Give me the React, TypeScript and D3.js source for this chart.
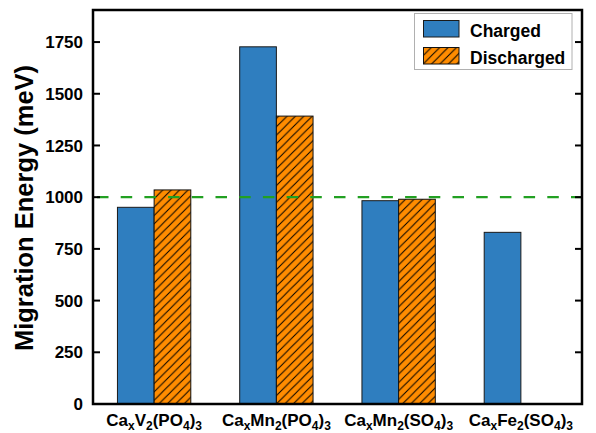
import React from "react";
import * as d3 from "d3";

const categories = ["Ca_xV_2(PO_4)_3", "Ca_xMn_2(PO_4)_3", "Ca_xMn_2(SO_4)_3", "Ca_xFe_2(SO_4)_3"];
const chargedValues = [951, 1727, 983, 830];
const dischargedValues: (number | null)[] = [1035, 1392, 990, null];
const seriesNames = ["Charged", "Discharged"];
const yTicks = [0, 250, 500, 750, 1000, 1250, 1500, 1750];
const thresholdValue = 1000;
const yLabel = "Migration Energy (meV)";

const W = 596;
const H = 433;
const M = { left: 93, right: 582, top: 10, bottom: 404 };
const BLUE = "#2f7ebf";
const ORANGE = "#ff8c00";
const GREEN = "#22a022";
const FONT = "'Liberation Sans', Arial, sans-serif";

function parseLabel(s: string) {
  const parts: { t: string; sub: boolean }[] = [];
  let i = 0;
  let buf = "";
  while (i < s.length) {
    if (s[i] === "_") {
      if (buf) parts.push({ t: buf, sub: false });
      buf = "";
      parts.push({ t: s[i + 1], sub: true });
      i += 2;
    } else {
      buf += s[i];
      i++;
    }
  }
  if (buf) parts.push({ t: buf, sub: false });
  return parts;
}

export default function App() {
  const x = d3.scaleBand<string>().domain(categories).range([M.left, M.right]).padding(0);
  const y = d3.scaleLinear().domain([0, 1905]).range([M.bottom, M.top]);
  const bw = x.bandwidth() * 0.3;
  const hs = 8.4;

  return (
    <svg width={W} height={H} style={{ position: "absolute", left: 0, top: 0, display: "block" }} fontFamily={FONT}>
      <defs>
        <pattern id="hatch" patternUnits="userSpaceOnUse" width={hs} height={hs}>
          <rect width={hs} height={hs} fill={ORANGE} />
          <path
            d={`M-1,1 l2,-2 M0,${hs} l${hs},${-hs} M${hs - 1},${hs + 1} l2,-2`}
            stroke="#000"
            strokeWidth={1}
          />
        </pattern>
      </defs>
      <rect width={W} height={H} fill="#fff" />

      {categories.map((c, i) => {
        const cx = (x(c) as number) + x.bandwidth() / 2;
        const v1 = chargedValues[i];
        const v2 = dischargedValues[i];
        return (
          <g key={c}>
            <rect x={cx - bw} y={y(v1)} width={bw} height={y(0) - y(v1)} fill={BLUE} stroke="#1a1a1a" strokeWidth={1} />
            {v2 != null && (
              <rect x={cx} y={y(v2)} width={bw} height={y(0) - y(v2)} fill="url(#hatch)" stroke="#111" strokeWidth={1} />
            )}
          </g>
        );
      })}

      <line
        x1={M.left}
        x2={M.right}
        y1={y(thresholdValue)}
        y2={y(thresholdValue)}
        stroke={GREEN}
        strokeWidth={2.2}
        strokeDasharray="11.5 12.2"
        strokeDashoffset={-4}
      />

      {yTicks.map((t) => (
        <g key={t}>
          <line x1={M.left} x2={M.left + 7} y1={y(t)} y2={y(t)} stroke="#000" strokeWidth={2} />
          <line x1={M.right - 7} x2={M.right} y1={y(t)} y2={y(t)} stroke="#000" strokeWidth={2} />
          <text x={83} y={y(t)} dy="0.36em" textAnchor="end" fontSize={17} fontWeight="bold">
            {t}
          </text>
        </g>
      ))}

      <rect x={M.left} y={M.top} width={M.right - M.left} height={M.bottom - M.top} fill="none" stroke="#000" strokeWidth={2.5} />

      {categories.map((c) => {
        const cx = (x(c) as number) + x.bandwidth() / 2;
        const parts = parseLabel(c);
        return (
          <text key={c} x={cx} y={426} textAnchor="middle" fontSize={17} fontWeight="bold">
            {parts.map((p, j) => {
              const prevSub = j > 0 && parts[j - 1].sub;
              const dy = p.sub ? (prevSub ? 0 : 4) : prevSub ? -4 : 0;
              return (
                <tspan key={j} dy={dy} fontSize={p.sub ? 12 : 17}>
                  {p.t}
                </tspan>
              );
            })}
          </text>
        );
      })}

      <text
        transform={`translate(33,${(M.top + M.bottom) / 2 + 1}) rotate(-90)`}
        textAnchor="middle"
        fontSize={25.5}
        fontWeight="bold"
      >
        {yLabel}
      </text>

      <g>
        <rect x={414.5} y={13.5} width={157.5} height={56} fill="#fff" stroke="#b0b0b0" strokeWidth={1} />
        <rect x={423.5} y={20.5} width={35.5} height={16.5} fill={BLUE} stroke="#1a1a1a" strokeWidth={1} />
        <rect x={423.5} y={47.5} width={35.5} height={16.5} fill="url(#hatch)" stroke="#111" strokeWidth={1} />
        <text x={470} y={36.5} fontSize={17.5} fontWeight="bold">
          {seriesNames[0]}
        </text>
        <text x={470} y={63.5} fontSize={17.5} fontWeight="bold">
          {seriesNames[1]}
        </text>
      </g>
    </svg>
  );
}
